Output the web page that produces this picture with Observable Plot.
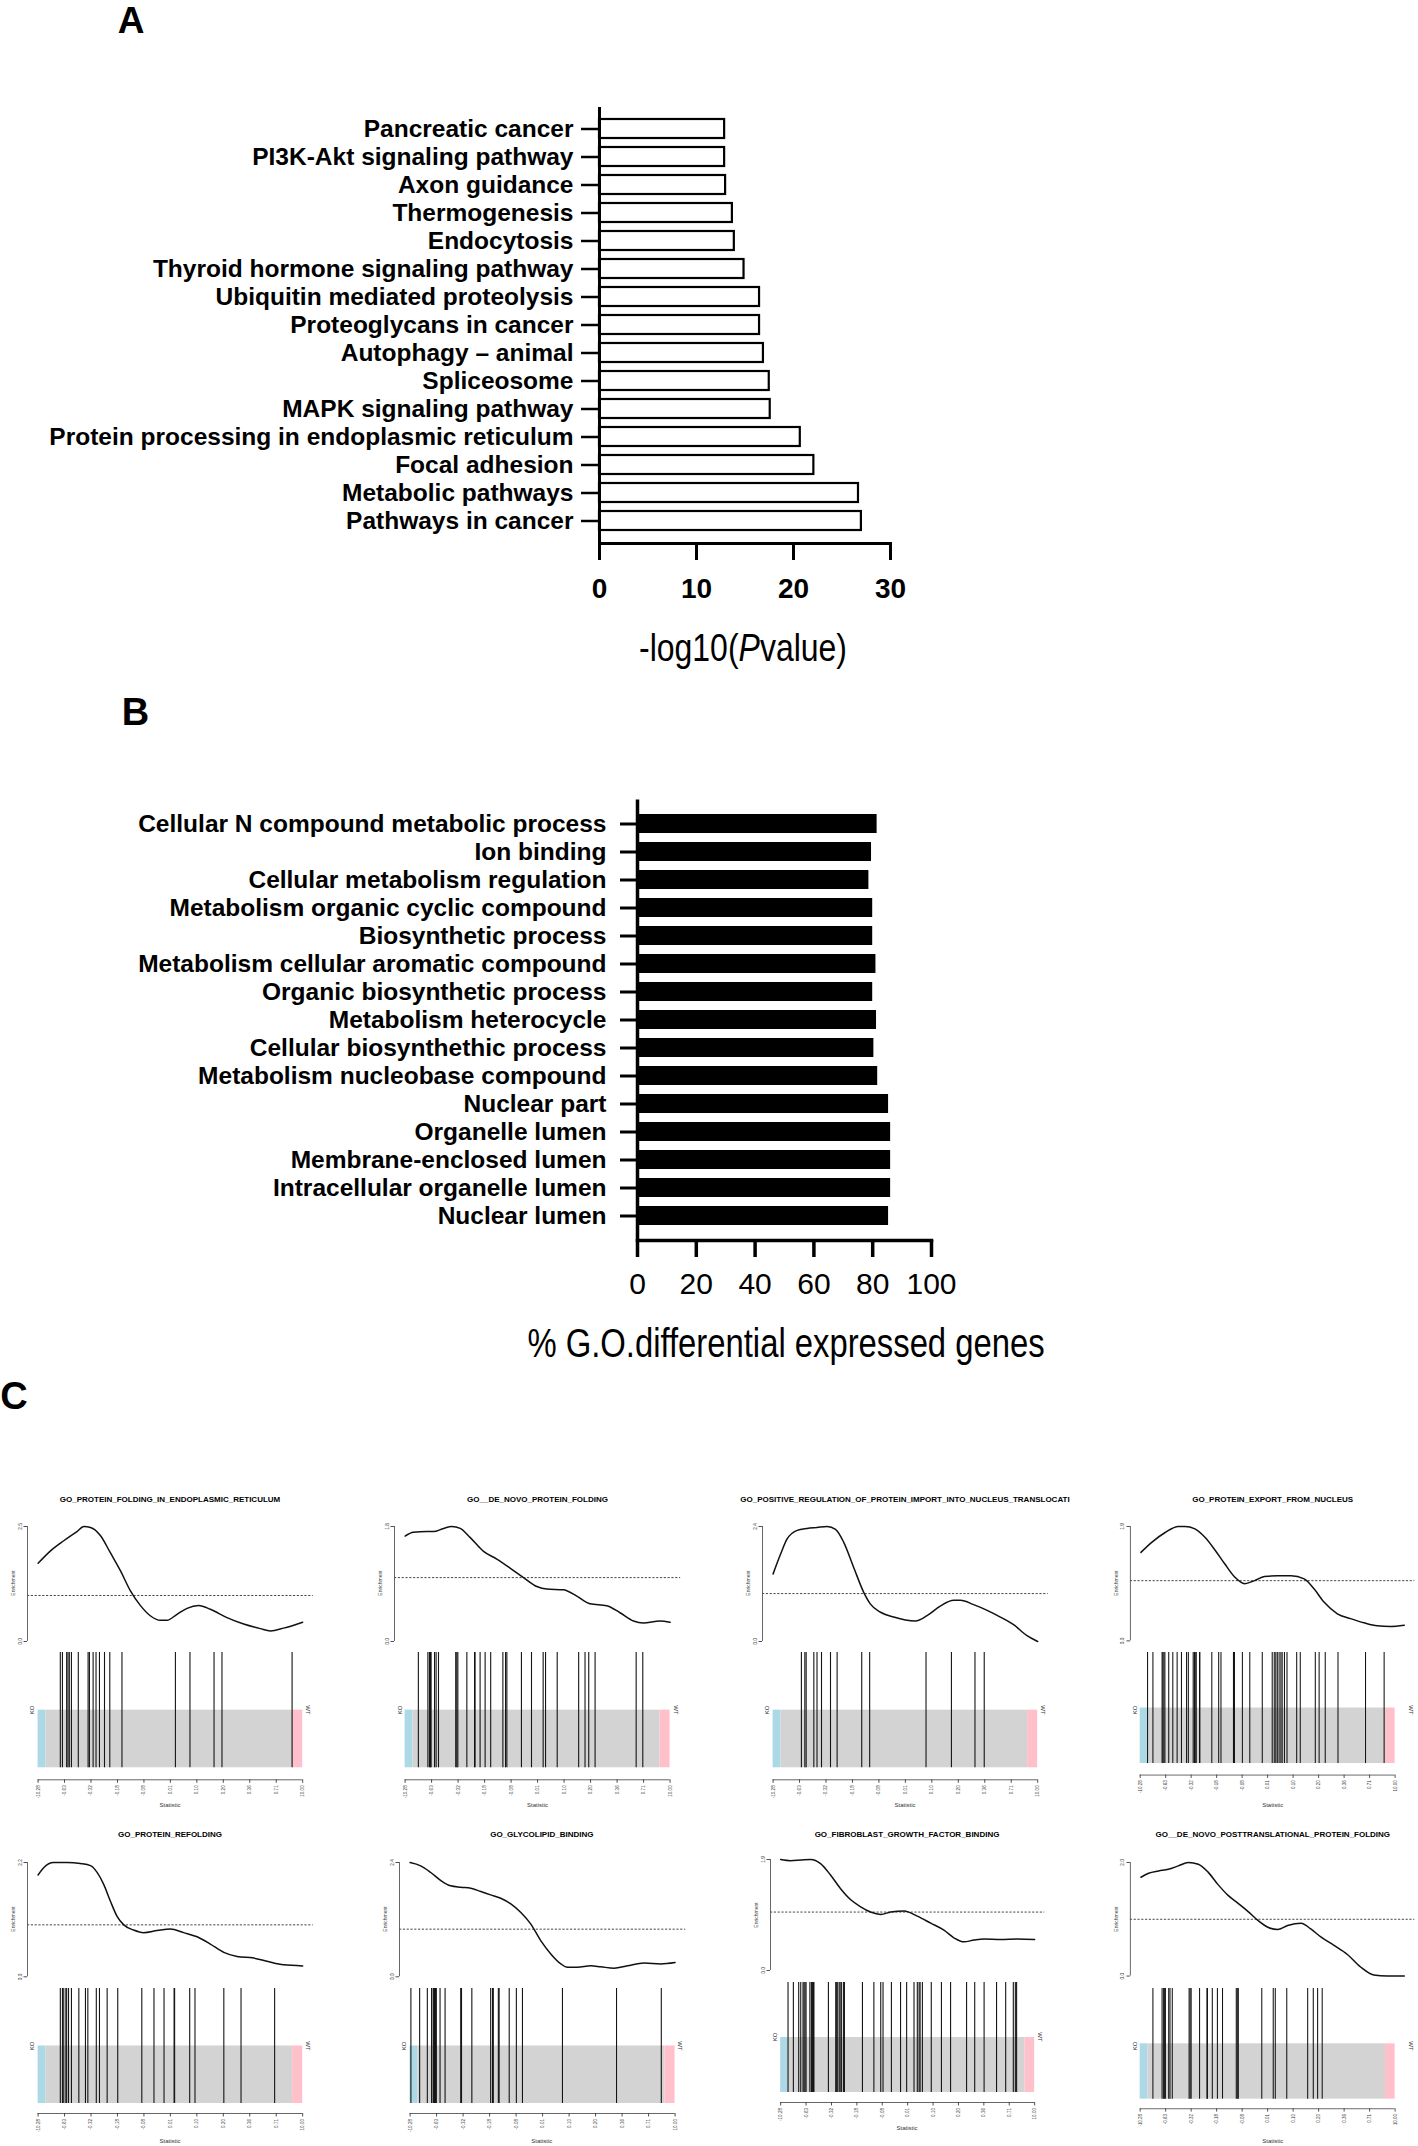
<!DOCTYPE html>
<html>
<head>
<meta charset="utf-8">
<script src="https://cdn.jsdelivr.net/npm/d3@7"></script>
<script src="https://cdn.jsdelivr.net/npm/@observablehq/plot@0.6"></script>
<style>
  html, body { margin: 0; padding: 0; background: #fff; }
  #fig { position: relative; width: 1418px; height: 2146px; overflow: hidden; background: #fff;
         font-family: "Liberation Sans", Arial, Helvetica, sans-serif; }
  .abs { position: absolute; }
  .lbl { position: absolute; white-space: nowrap; line-height: 1; }
</style>
</head>
<body>
<div id="fig"></div>
<script>
// ---------------- DATA ----------------
// Panel A: KEGG pathways, -log10(P value)
const keggPathways = ["Pancreatic cancer", "PI3K-Akt signaling pathway", "Axon guidance", "Thermogenesis",
  "Endocytosis", "Thyroid hormone signaling pathway", "Ubiquitin mediated proteolysis", "Proteoglycans in cancer",
  "Autophagy – animal", "Spliceosome", "MAPK signaling pathway", "Protein processing in endoplasmic reticulum",
  "Focal adhesion", "Metabolic pathways", "Pathways in cancer"];
const keggLogP = [12.9, 12.9, 13.0, 13.7, 13.9, 14.9, 16.5, 16.5, 16.9, 17.5, 17.6, 20.7, 22.1, 26.7, 27.0];
const keggTicks = [0, 10, 20, 30];

// Panel B: GO terms, % differentially expressed genes
const goTerms = ["Cellular N compound metabolic process", "Ion binding", "Cellular metabolism regulation",
  "Metabolism organic cyclic compound", "Biosynthetic process", "Metabolism cellular aromatic compound",
  "Organic biosynthetic process", "Metabolism heterocycle", "Cellular biosynthethic process",
  "Metabolism nucleobase compound", "Nuclear part", "Organelle lumen", "Membrane-enclosed lumen",
  "Intracellular organelle lumen", "Nuclear lumen"];
const goPercent = [81.5, 79.6, 78.7, 80.0, 80.0, 81.1, 80.0, 81.3, 80.4, 81.7, 85.4, 86.1, 86.1, 86.1, 85.4];
const goTicks = [0, 20, 40, 60, 80, 100];

// Panel C: barcode plots
const gseaTitles = ["GO_PROTEIN_FOLDING_IN_ENDOPLASMIC_RETICULUM", "GO__DE_NOVO_PROTEIN_FOLDING",
  "GO_POSITIVE_REGULATION_OF_PROTEIN_IMPORT_INTO_NUCLEUS_TRANSLOCATI", "GO_PROTEIN_EXPORT_FROM_NUCLEUS",
  "GO_PROTEIN_REFOLDING", "GO_GLYCOLIPID_BINDING", "GO_FIBROBLAST_GROWTH_FACTOR_BINDING",
  "GO__DE_NOVO_POSTTRANSLATIONAL_PROTEIN_FOLDING"];
const gseaMax = [2.5, 1.8, 2.4, 1.9, 2.2, 2.4, 1.9, 2];
const statTickLabels = ["-10.28", "-0.63", "-0.32", "-0.18", "-0.08", "0.01", "0.10", "0.20", "0.36", "0.71", "10.00"];
const zoneNames = ["KO", "mid", "WT"];
const zoneFrom = [0, 0.03, 0.962];
const zoneTo = [0.03, 0.962, 1];
const zoneColors = ["#add8e6", "#d3d3d3", "#ffc0cb"];

// enrichment curves: [rank fraction, enrichment]
const curveFoldingER = [[0,1.70],[0.047,1.97],[0.097,2.19],[0.147,2.39],[0.173,2.50],[0.198,2.48],[0.236,2.30],[0.273,1.93],[0.311,1.54],[0.349,1.10],[0.387,0.78],[0.424,0.56],[0.462,0.46],[0.487,0.46],[0.525,0.59],[0.563,0.72],[0.607,0.78],[0.651,0.70],[0.714,0.52],[0.777,0.38],[0.840,0.28],[0.878,0.23],[0.928,0.29],[1,0.42]];
const curveDeNovo = [[0,1.65],[0.031,1.71],[0.082,1.72],[0.107,1.72],[0.145,1.77],[0.176,1.80],[0.208,1.77],[0.245,1.63],[0.296,1.41],[0.346,1.29],[0.396,1.15],[0.447,1.00],[0.497,0.86],[0.535,0.82],[0.597,0.81],[0.648,0.71],[0.698,0.59],[0.761,0.56],[0.811,0.45],[0.862,0.32],[0.899,0.29],[0.962,0.32],[1,0.30]];
const curveImportNucleus = [[0,1.41],[0.028,1.82],[0.053,2.14],[0.091,2.32],[0.128,2.36],[0.166,2.38],[0.204,2.40],[0.236,2.34],[0.267,2.07],[0.305,1.54],[0.343,1.02],[0.368,0.78],[0.406,0.61],[0.456,0.51],[0.5,0.45],[0.538,0.43],[0.582,0.54],[0.632,0.74],[0.683,0.86],[0.708,0.86],[0.758,0.77],[0.809,0.65],[0.859,0.51],[0.909,0.35],[0.960,0.12],[1,0.0]];
const curveExportNucleus = [[0,1.47],[0.042,1.64],[0.092,1.80],[0.142,1.90],[0.167,1.90],[0.205,1.86],[0.243,1.72],[0.281,1.51],[0.318,1.28],[0.356,1.06],[0.394,0.95],[0.431,1.00],[0.469,1.07],[0.519,1.08],[0.570,1.08],[0.620,1.03],[0.658,0.86],[0.696,0.64],[0.746,0.45],[0.796,0.37],[0.847,0.30],[0.897,0.25],[0.947,0.24],[1,0.26]];
const curveRefolding = [[0,1.96],[0.021,2.10],[0.059,2.20],[0.110,2.20],[0.160,2.18],[0.198,2.14],[0.223,2.01],[0.248,1.78],[0.273,1.46],[0.298,1.17],[0.324,1.00],[0.361,0.90],[0.399,0.85],[0.450,0.89],[0.5,0.92],[0.550,0.85],[0.601,0.77],[0.651,0.63],[0.702,0.47],[0.752,0.39],[0.815,0.36],[0.865,0.30],[0.928,0.23],[1,0.21]];
const curveGlycolipid = [[0,2.40],[0.040,2.33],[0.078,2.19],[0.116,2.02],[0.153,1.91],[0.191,1.88],[0.229,1.86],[0.267,1.79],[0.304,1.72],[0.342,1.65],[0.380,1.53],[0.418,1.35],[0.455,1.11],[0.493,0.76],[0.531,0.48],[0.569,0.27],[0.594,0.20],[0.631,0.20],[0.682,0.23],[0.719,0.21],[0.770,0.18],[0.820,0.23],[0.883,0.29],[0.946,0.27],[1,0.30]];
const curveFGF = [[0,1.90],[0.039,1.88],[0.079,1.89],[0.118,1.90],[0.157,1.83],[0.197,1.63],[0.236,1.40],[0.276,1.21],[0.315,1.09],[0.354,1.00],[0.394,0.96],[0.433,1.00],[0.486,1.02],[0.538,0.93],[0.591,0.81],[0.643,0.69],[0.682,0.56],[0.722,0.49],[0.761,0.52],[0.801,0.54],[0.866,0.53],[0.932,0.54],[1,0.53]];
const curvePosttranslational = [[0,1.74],[0.029,1.81],[0.067,1.85],[0.104,1.88],[0.142,1.94],[0.180,2.00],[0.218,1.97],[0.255,1.83],[0.293,1.61],[0.331,1.42],[0.369,1.28],[0.406,1.14],[0.444,0.98],[0.482,0.86],[0.519,0.82],[0.557,0.89],[0.608,0.93],[0.645,0.83],[0.683,0.69],[0.733,0.54],[0.784,0.38],[0.834,0.16],[0.884,0.02],[0.935,0],[1,0]];

// barcode positions (rank fraction of each gene in the set)
const barsFoldingER = [0.084,0.092,0.108,0.113,0.118,0.126,0.152,0.189,0.194,0.208,0.219,0.232,0.251,0.271,0.317,0.519,0.574,0.665,0.695,0.960];
const barsDeNovo = [0.050,0.086,0.092,0.096,0.098,0.111,0.117,0.126,0.191,0.195,0.199,0.233,0.262,0.264,0.283,0.302,0.323,0.369,0.379,0.384,0.439,0.477,0.521,0.530,0.574,0.655,0.679,0.693,0.717,0.872,0.897];
const barsImportNucleus = [0.107,0.120,0.125,0.154,0.166,0.183,0.217,0.242,0.335,0.365,0.578,0.674,0.763,0.798];
const barsExportNucleus = [0.029,0.050,0.086,0.089,0.093,0.097,0.112,0.128,0.145,0.162,0.182,0.189,0.208,0.213,0.216,0.220,0.233,0.234,0.281,0.308,0.317,0.366,0.370,0.401,0.430,0.479,0.518,0.526,0.532,0.538,0.545,0.552,0.557,0.566,0.576,0.614,0.628,0.687,0.702,0.726,0.776,0.884,0.957];
const barsRefolding = [0.084,0.092,0.097,0.105,0.108,0.115,0.126,0.154,0.179,0.188,0.220,0.232,0.261,0.301,0.392,0.438,0.476,0.514,0.516,0.573,0.593,0.702,0.767,0.894];
const barsGlycolipid = [0.003,0.036,0.065,0.081,0.087,0.089,0.092,0.096,0.099,0.113,0.132,0.191,0.194,0.233,0.304,0.311,0.314,0.333,0.336,0.374,0.401,0.424,0.575,0.779,0.948];
const barsFGF = [0.029,0.050,0.071,0.079,0.088,0.092,0.096,0.100,0.115,0.121,0.125,0.129,0.131,0.188,0.217,0.219,0.223,0.230,0.234,0.239,0.247,0.251,0.322,0.367,0.394,0.403,0.436,0.472,0.496,0.525,0.538,0.545,0.549,0.558,0.593,0.633,0.669,0.732,0.764,0.801,0.850,0.886,0.916,0.924,0.929];
const barsPosttranslational = [0.050,0.086,0.092,0.096,0.099,0.112,0.117,0.126,0.192,0.196,0.200,0.233,0.262,0.264,0.283,0.303,0.323,0.377,0.381,0.385,0.477,0.522,0.530,0.575,0.657,0.679,0.696,0.714];

const gseaCurves = [curveFoldingER, curveDeNovo, curveImportNucleus, curveExportNucleus,
  curveRefolding, curveGlycolipid, curveFGF, curvePosttranslational];
const gseaBars = [barsFoldingER, barsDeNovo, barsImportNucleus, barsExportNucleus,
  barsRefolding, barsGlycolipid, barsFGF, barsPosttranslational];

// ---------------- LAYOUT (pixels) ----------------
const FONT = '"Liberation Sans", Arial, Helvetica, sans-serif';
const panelLeft  = [37.7, 405, 772.7, 1140.3, 37.7, 409.3, 780, 1140.3];
const panelRight = [302.3, 670, 1037.3, 1405, 302.3, 674.3, 1034, 1405.3];
const titleY     = [1500, 1500, 1500, 1500, 1835, 1835, 1835, 1835];
const curveTop   = [1525.7, 1525.7, 1525.7, 1525.7, 1861.7, 1861.7, 1859, 1861.7];
const curveZero  = [1640.7, 1640.7, 1640.7, 1640.7, 1976, 1976, 1970, 1976];
const barsTop    = [1651.7, 1651.7, 1651.7, 1651.7, 1988, 1988, 1982, 1988];
const grayTop    = [1710, 1710, 1710, 1710, 2046, 2046, 2037, 2046];
const grayBottom = [1767, 1767, 1767, 1767, 2103, 2103, 2092, 2103];
const axisLineY  = [1779, 1779, 1779, 1779, 2113, 2113, 2102, 2113];
const statY      = [1805, 1805, 1805, 1805, 2141, 2141, 2128, 2141];
const XPAD = 0.04;
const ZONE_LOW = -0.5, ZONE_HIGH = 0.5, BAR_HIGH = 1.5;

const fig = document.getElementById("fig");
function place(node, left, top) {
  const w = document.createElement("div");
  w.className = "abs";
  w.style.left = left + "px";
  w.style.top = top + "px";
  w.appendChild(node);
  fig.appendChild(w);
}
function label(content, x, y, {size = 10, weight = "normal", rotate = 0, color = "#000", html = false, stretch = 1, lineHeight = 1} = {}) {
  const d = document.createElement("div");
  d.className = "lbl";
  if (html) d.innerHTML = content; else d.textContent = content;
  d.style.left = x + "px";
  d.style.top = y + "px";
  d.style.fontSize = size + "px";
  d.style.fontWeight = weight;
  d.style.fontFamily = FONT;
  d.style.lineHeight = lineHeight;
  d.style.color = color;
  d.style.transform = `translate(-50%, -50%) rotate(${rotate}deg) scaleX(${stretch})`;
  fig.appendChild(d);
}
const baseStyle = {fontFamily: FONT, background: "transparent", overflow: "visible", color: "#000"};

// ---------------- PANEL A ----------------
const keggData = keggPathways.map((p, i) => ({pathway: p, value: keggLogP[i]}));
const plotA = Plot.plot({
  width: 950, height: 620,
  marginLeft: 599, marginRight: 60, marginTop: 107, marginBottom: 77,
  x: {domain: [0, 30]},
  y: {domain: keggPathways, paddingInner: 0.32, paddingOuter: 0.267},
  style: baseStyle,
  marks: [
    Plot.barX(keggData, {x: "value", y: "pathway", fill: "white", stroke: "black", strokeWidth: 2.2}),
    Plot.ruleX([0], {strokeWidth: 3}),
    Plot.frame({anchor: "bottom", strokeWidth: 3}),
    Plot.axisY({tickSize: 18, tickPadding: 8, fontSize: 24.5, fontWeight: "bold", strokeWidth: 2.5, label: null}),
    Plot.axisX({ticks: keggTicks, tickSize: 17, tickPadding: 18, fontSize: 28, fontWeight: "bold", strokeWidth: 3, label: null})
  ]
});
place(plotA, 0, 0);
label("A", 131, 21, {size: 37, weight: "bold", lineHeight: 0.75});
label('-log10(<i>P</i>value)', 742.5, 646.5, {size: 39, html: true, stretch: 0.82});

// ---------------- PANEL B ----------------
const goData = goTerms.map((t, i) => ({term: t, value: goPercent[i]}));
const plotB = Plot.plot({
  width: 1000, height: 620,
  marginLeft: 637, marginRight: 69, marginTop: 99.6, marginBottom: 80,
  x: {domain: [0, 100]},
  y: {domain: goTerms, paddingInner: 0.33, paddingOuter: 0.381},
  style: baseStyle,
  marks: [
    Plot.barX(goData, {x: "value", y: "term", fill: "black"}),
    Plot.ruleX([0], {strokeWidth: 3.5}),
    Plot.frame({anchor: "bottom", strokeWidth: 3.5}),
    Plot.axisY({tickSize: 17, tickPadding: 14, fontSize: 24.5, fontWeight: "bold", strokeWidth: 3, label: null}),
    Plot.axisX({ticks: goTicks, tickSize: 17, tickPadding: 15, fontSize: 30, strokeWidth: 3.5, label: null})
  ]
});
place(plotB, 0, 700);
label("B", 135.5, 712, {size: 38, weight: "bold", lineHeight: 0.75});
label("% G.O.differential expressed genes", 786, 1343, {size: 40, stretch: 0.82});

// ---------------- PANEL C ----------------
label("C", 14, 1396, {size: 38, weight: "bold", lineHeight: 0.75});
const statTickPositions = statTickLabels.map((_, i) => i / (statTickLabels.length - 1));
const zones = zoneNames.map((z, i) => ({zone: z, from: zoneFrom[i], to: zoneTo[i], color: zoneColors[i]}));

gseaTitles.forEach((title, i) => {
  const L = panelLeft[i], R = panelRight[i], W = R - L;
  const fl = L - XPAD * W, fr = R + XPAD * W;
  const cx = (L + R) / 2;
  const ymax = gseaMax[i];

  // enrichment curve
  const mL = 20, mR = 4, mT = 4, mB = 4;
  const curvePlot = Plot.plot({
    width: (fr - fl) + mL + mR, height: (curveZero[i] - curveTop[i]) + mT + mB,
    marginLeft: mL, marginRight: mR, marginTop: mT, marginBottom: mB,
    x: {domain: [-XPAD, 1 + XPAD], axis: null},
    y: {domain: [0, ymax]},
    style: {...baseStyle, color: "#3a3a3a"},
    marks: [
      Plot.ruleY([1], {stroke: "#333", strokeDasharray: "2.2,1.6", strokeWidth: 0.9}),
      Plot.ruleX([-XPAD], {y1: 0, y2: ymax, stroke: "#555", strokeWidth: 0.9}),
      Plot.axisY({ticks: [0, ymax], tickSize: 3.5, tickRotate: -90, tickPadding: 2.5, fontSize: 4.8, strokeWidth: 0.9, label: null}),
      Plot.line(gseaCurves[i], {x: d => d[0], y: d => d[1], curve: "monotone-x", stroke: "#111", strokeWidth: 1.5})
    ]
  });
  place(curvePlot, fl - mL, curveTop[i] - mT);

  // barcode
  const unit = (grayBottom[i] - barsTop[i]) / (BAR_HIGH - ZONE_LOW);
  const gap = (axisLineY[i] - grayBottom[i]) / unit;
  const bm = 14, bB = 26;
  const barPlot = Plot.plot({
    width: (fr - fl) + 2 * bm, height: (axisLineY[i] - barsTop[i]) + bB,
    marginLeft: bm, marginRight: bm, marginTop: 0, marginBottom: bB,
    x: {domain: [-XPAD, 1 + XPAD]},
    y: {domain: [ZONE_LOW - gap, BAR_HIGH], axis: null},
    color: {type: "identity"},
    style: {...baseStyle, color: "#3a3a3a"},
    marks: [
      Plot.rect(zones, {x1: "from", x2: "to", y1: ZONE_LOW, y2: ZONE_HIGH, fill: "color"}),
      Plot.ruleX(gseaBars[i], {x: d => d, y1: ZONE_LOW, y2: BAR_HIGH, stroke: "#151515", strokeWidth: 1.1}),
      Plot.ruleY([ZONE_LOW - gap], {x1: 0, x2: 1, stroke: "#555", strokeWidth: 0.9}),
      Plot.axisX({ticks: statTickPositions, tickFormat: d => statTickLabels[Math.round(d * (statTickLabels.length - 1))],
        tickSize: 3.5, tickRotate: -90, tickPadding: 2, fontSize: 4.6, strokeWidth: 0.9, label: null})
    ]
  });
  place(barPlot, fl - bm, barsTop[i]);

  // texts
  label(title, cx, titleY[i], {size: 8, weight: "bold"});
  label("Enrichment", fl - 14, (curveTop[i] + curveZero[i]) / 2, {size: 5, rotate: -90, color: "#444"});
  label("KO", L - 5.5, grayTop[i], {size: 6, rotate: -90, color: "#333"});
  label("WT", R + 6, grayTop[i], {size: 6, rotate: 90, color: "#333"});
  label("Statistic", cx, statY[i], {size: 6, color: "#333"});
});
</script>
</body>
</html>
